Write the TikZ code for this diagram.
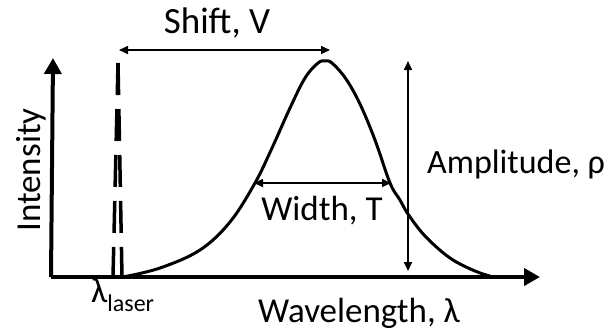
\documentclass[tikz,border=0pt]{standalone}
\usepackage{fontspec}
\setmainfont{Carlito}
\usetikzlibrary{arrows.meta}
\begin{document}
\begin{tikzpicture}[x=1pt,y=-1pt,
  axisline/.style={line width=4pt,-{Triangle[length=16pt,width=17pt]}},
  dimarrow/.style={line width=1.6pt,{Triangle[length=9pt,width=8pt]}-{Triangle[length=9pt,width=8pt]}},
  lbl/.style={inner sep=0pt,font=\fontsize{35}{40}\selectfont},
  laserline/.style={line width=3.5pt,dash pattern=on 32pt off 14pt},
  peakline/.style={line width=3pt,line join=round,line cap=round}]
\useasboundingbox (0,0) rectangle (605,333);
% axes
\coordinate (O) at (53,277);
\coordinate (ytip) at (53,58);
\coordinate (xtip) at (540,277);
\draw[axisline] (51,277) -- (ytip);
\draw[axisline] (51,277) -- (xtip);
% laser line
\coordinate (ltop) at (118,63);
\coordinate (lbl1) at (113,277);
\coordinate (lbr) at (122,277);
\draw[laserline] (ltop) -- (lbl1);
\draw[laserline] (ltop) -- (lbr);
% Raman peak
\draw[peakline] plot[smooth,tension=0.6] coordinates {
 (123,277) (160,268) (200,250) (230,222) (255,183) (272,148) (290,108) (305,78) (318,63) (325,61) (332,63) (346,79) (360,104) (375,140) (390,183) (400,200) (408,214) (425,236) (450,258) (475,271) (493,277)};
% dimension arrows
\coordinate (sL) at (119,50);
\coordinate (sR) at (330,50);
\draw[dimarrow] (sL) -- (sR);
\coordinate (wL) at (254,183);
\coordinate (wR) at (391,183);
\draw[dimarrow] (wL) -- (wR);
\coordinate (aT) at (408,61);
\coordinate (aB) at (408,271);
\draw[dimarrow] (aT) -- (aB);
% labels
\node[lbl,anchor=base,font=\fontsize{37}{42}\selectfont] (shift) at (217,33) {Shift, V};
\node[lbl,anchor=base,font=\fontsize{35}{40}\selectfont] (width) at (322,220) {Width, T};
\node[lbl,anchor=base west,font=\fontsize{34}{40}\selectfont] (amp) at (427,173) {Amplitude, ρ};
\node[lbl,anchor=base,font=\fontsize{35}{40}\selectfont] (wave) at (359,322) {Wavelength, λ};
\node[lbl,anchor=base,rotate=90,font=\fontsize{35}{40}\selectfont] (int) at (40,170) {Intensity};
\node[lbl,anchor=base west] (lam) at (91,302) {λ\raisebox{-9pt}{\fontsize{24}{26}\selectfont laser}};
\end{tikzpicture}
\end{document}
